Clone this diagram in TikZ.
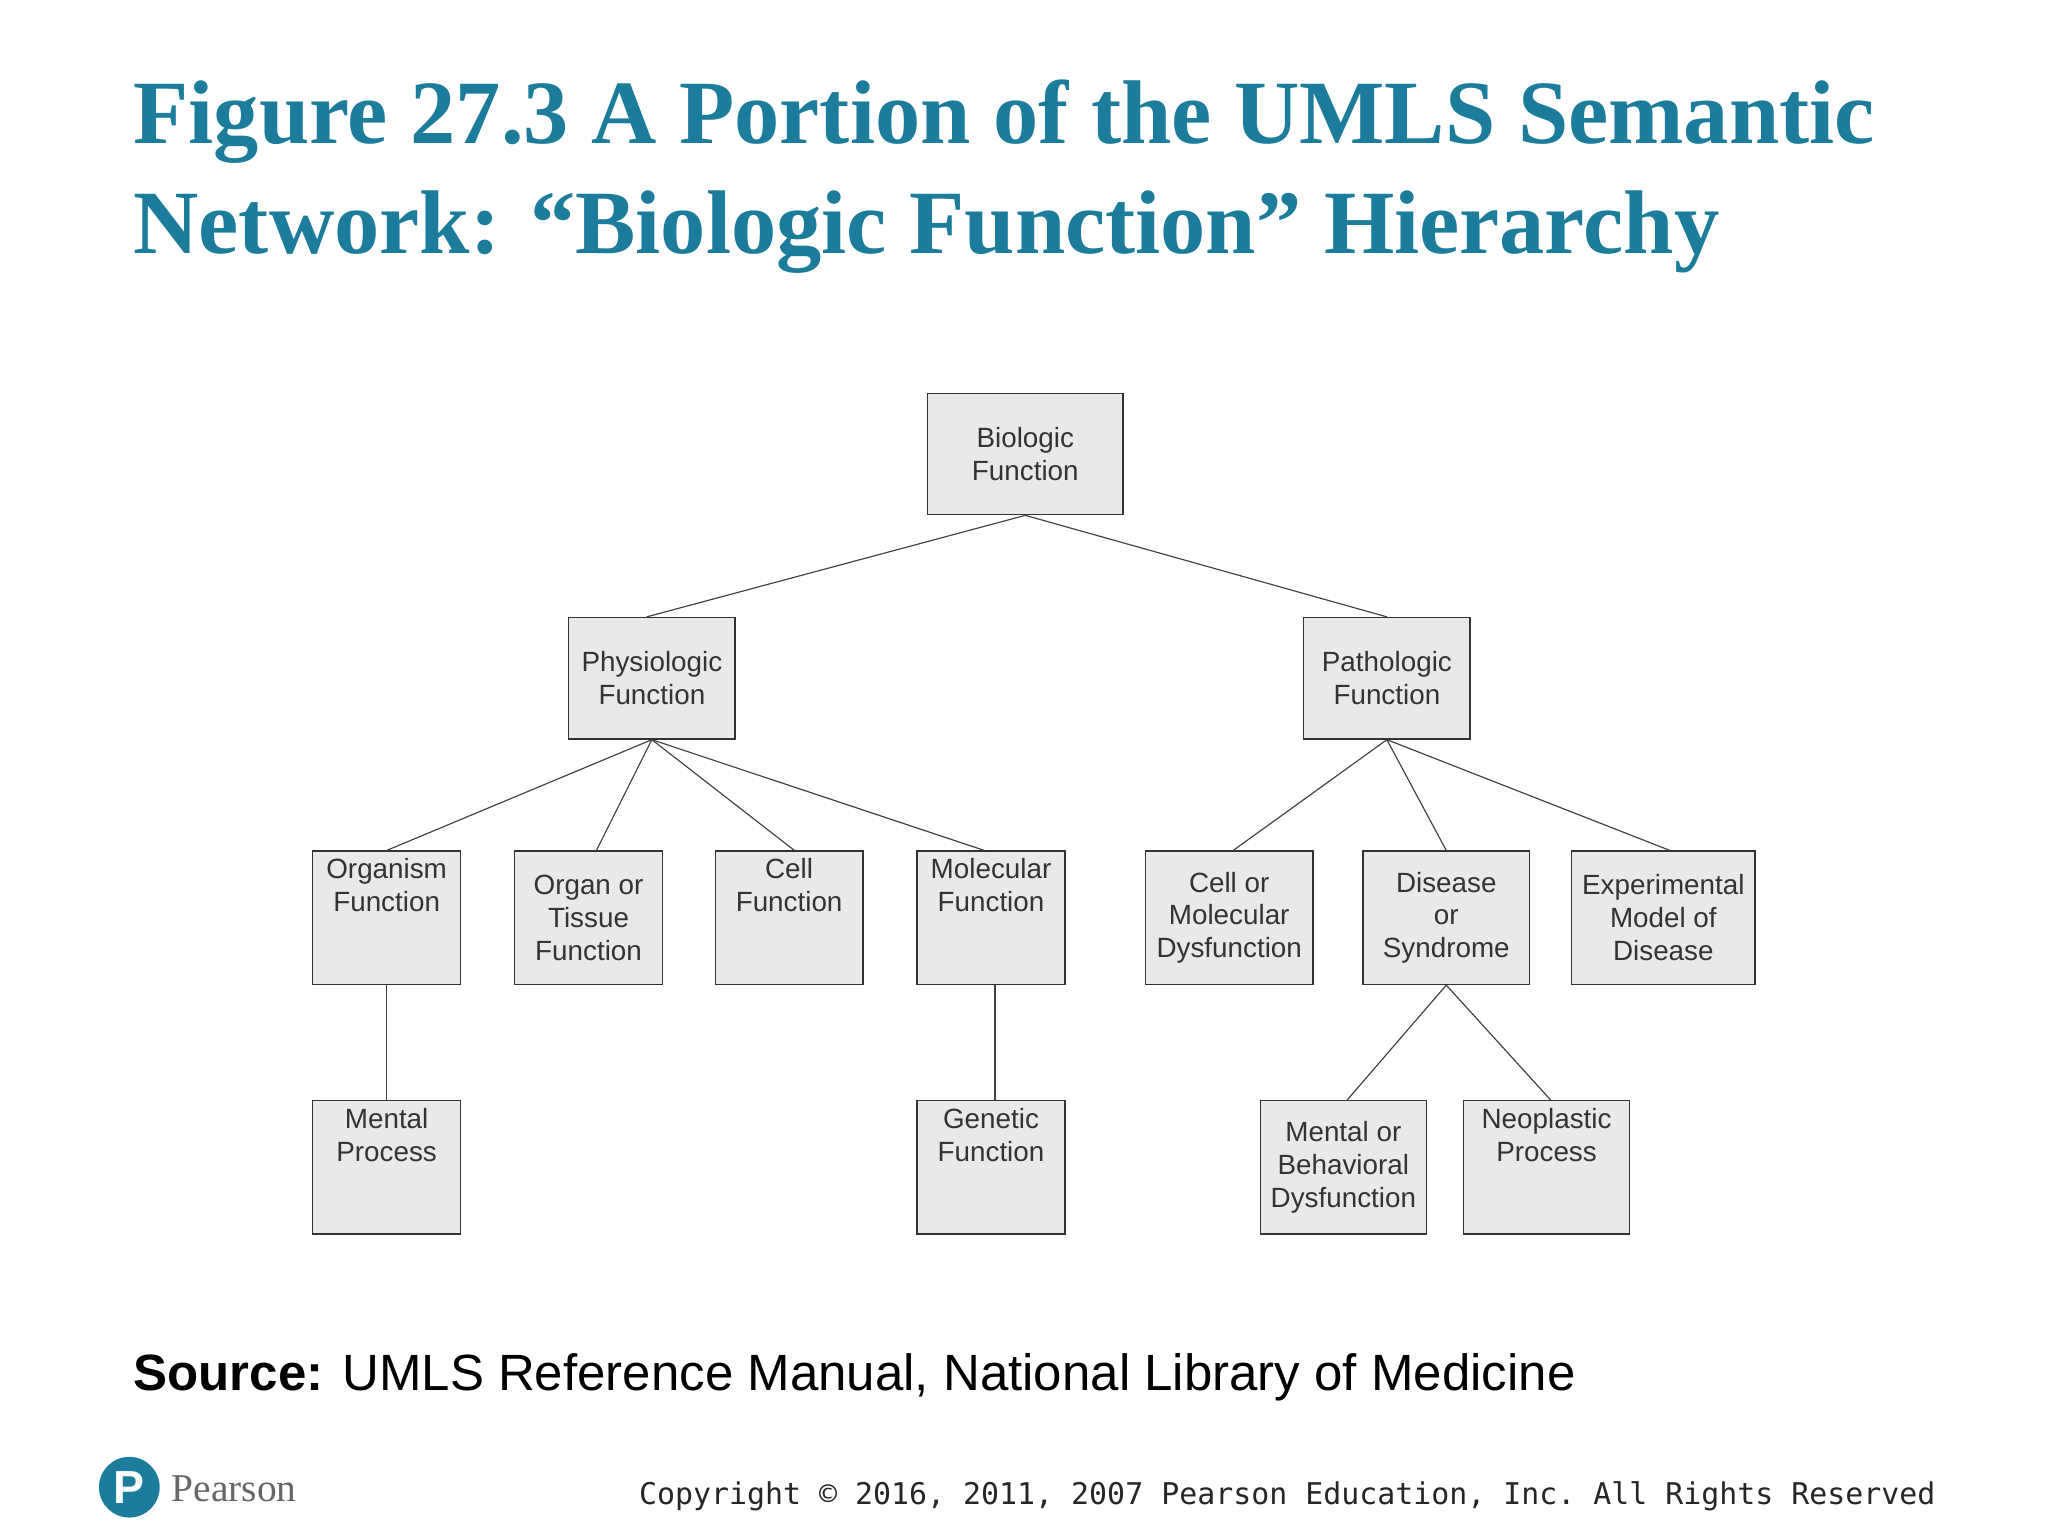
\documentclass[tikz,border=0pt]{standalone}
\usepackage{fontspec}
\setmainfont{Liberation Serif}
\setsansfont{Liberation Sans}
\setmonofont{DejaVu Sans Mono}
\definecolor{teal1}{HTML}{1B7C9C}
\definecolor{boxfill}{HTML}{E9E9E9}
\definecolor{txt}{HTML}{333333}
\begin{document}
\begin{tikzpicture}[x=0.02cm,y=-0.02cm,
  bx/.style={draw=black!80,line width=0.6pt,fill=boxfill,align=center,inner sep=0pt,
    font=\sffamily\fontsize{12}{14.2}\selectfont,text=txt},
  ln/.style={draw=black!75,line width=0.5pt}]
\useasboundingbox (0,0) rectangle (1552,1164);
\fill[white] (0,0) rectangle (1552,1164);
\node[anchor=base west,align=left,text=teal1,font=\bfseries\fontsize{39}{47.5}\selectfont] (title) at (95,192)
  {Figure 27.3 A Portion of the UMLS Semantic\\Network: “Biologic Function” Hierarchy};
\newcommand{\mybox}[6]{\node[bx,minimum width={(#4-#2)*0.02cm},minimum height={(#5-#3)*0.02cm}] (#1) at ({(#2+#4)/2},{(#3+#5)/2}) {#6};}
\mybox{bio}{703}{298}{851}{390}{Biologic\\Function}
\mybox{phy}{431}{468}{557}{560}{Physiologic\\Function}
\mybox{pat}{988}{468}{1114}{560}{Pathologic\\Function}
\mybox{org}{237}{645}{349}{746}{Organism\\Function\\[14pt]}
\mybox{ot}{390}{645}{502}{746}{Organ or\\Tissue\\Function}
\mybox{cell}{542}{645}{654}{746}{Cell\\Function\\[14pt]}
\mybox{mol}{695}{645}{807}{746}{Molecular\\Function\\[14pt]}
\mybox{cmd}{868}{645}{995}{746}{Cell or\\Molecular\\Dysfunction}
\mybox{dis}{1033}{645}{1159}{746}{Disease\\or\\Syndrome}
\mybox{exp}{1191}{645}{1330}{746}{Experimental\\Model of\\Disease}
\mybox{mp}{237}{834}{349}{935}{Mental\\Process\\[14pt]}
\mybox{gen}{695}{834}{807}{935}{Genetic\\Function\\[14pt]}
\mybox{mbd}{955}{834}{1081}{935}{Mental or\\Behavioral\\Dysfunction}
\mybox{neo}{1109}{834}{1235}{935}{Neoplastic\\Process\\[14pt]}
\draw[ln] (bio.south) -- ([xshift=-0.08cm]phy.north);
\draw[ln] (bio.south) -- (pat.north);
\draw[ln] (phy.south) -- (org.north);
\draw[ln] (phy.south) -- ([xshift=0.12cm]ot.north);
\draw[ln] (phy.south) -- ([xshift=0.08cm]cell.north);
\draw[ln] (phy.south) -- ([xshift=-0.1cm]mol.north);
\draw[ln] (pat.south) -- ([xshift=0.06cm]cmd.north);
\draw[ln] (pat.south) -- (dis.north);
\draw[ln] (pat.south) -- ([xshift=0.1cm]exp.north);
\draw[ln] (org.south) -- (mp.north);
\draw[ln] ([xshift=0.06cm]mol.south) -- ([xshift=0.06cm]gen.north);
\draw[ln] (dis.south) -- ([xshift=0.06cm]mbd.north);
\draw[ln] (dis.south) -- ([xshift=0.06cm]neo.north);
\node[anchor=base west,font=\sffamily\fontsize{22}{26}\selectfont] (src) at (95,1054)
  {\textbf{Source:} UMLS Reference Manual, National Library of Medicine};
\node[anchor=base east,font=\ttfamily\fontsize{12.9}{16}\selectfont,text=black!85] (copy) at (1473,1140)
  {Copyright © 2016, 2011, 2007 Pearson Education, Inc. All Rights Reserved};
\node[circle,fill=teal1,minimum size=0.92cm,inner sep=0pt,text=white,font=\sffamily\bfseries\fontsize{20}{20}\selectfont] (logo) at (98,1127) {P};
\node[anchor=base west,font=\fontsize{17}{20}\selectfont,text=black!60] (pearson) at (124,1138) {Pearson};
\end{tikzpicture}
\end{document}
